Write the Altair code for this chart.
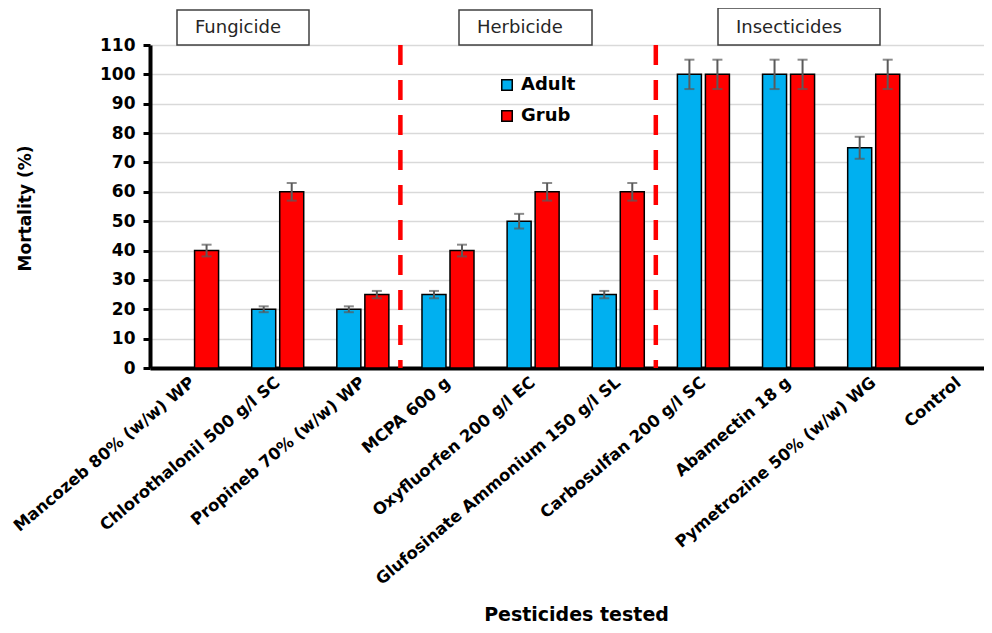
import altair as alt
import pandas as pd

# ---------------- data ----------------
pesticides = [
    "Mancozeb 80% (w/w) WP",
    "Chlorothalonil 500 g/l SC",
    "Propineb 70% (w/w) WP",
    "MCPA 600 g",
    "Oxyfluorfen 200 g/l EC",
    "Glufosinate Ammonium 150 g/l SL",
    "Carbosulfan 200 g/l SC",
    "Abamectin 18 g",
    "Pymetrozine 50% (w/w) WG",
    "Control",
]
adult = [0, 20, 20, 25, 50, 25, 100, 100, 75, 0]
grub = [40, 60, 25, 40, 60, 60, 100, 100, 100, 0]
adult_err = [0, 1, 1, 1.25, 2.5, 1.25, 5, 5, 3.75, 0]
grub_err = [2, 3, 1.25, 2, 3, 3, 5, 5, 5, 0]
stages = ["Adult", "Grub"]
stage_colors = ["#00B0F0", "#FF0000"]
y_ticks = list(range(0, 111, 10))
separators = ["MCPA 600 g", "Carbosulfan 200 g/l SC"]
classes = ["Fungicide", "Herbicide", "Insecticides"]

rows = []
for i, p in enumerate(pesticides):
    for s, vals, errs in (("Adult", adult, adult_err), ("Grub", grub, grub_err)):
        rows.append({"pesticide": p, "stage": s, "value": vals[i], "err": errs[i],
                     "lo": vals[i] - errs[i], "hi": vals[i] + errs[i]})
df = pd.DataFrame(rows)
err_df = df[df["err"] > 0]
sep_df = pd.DataFrame({"pesticide": separators})

# ---------------- layout / style ----------------
BOLD = "DejaVu Sans"
x_scale = alt.Scale(domain=pesticides, range=[0, 851.4], paddingInner=0.389, paddingOuter=0.1945)
xo_scale = alt.Scale(domain=stages, paddingInner=0.143, paddingOuter=0)

x_axis = alt.Axis(
    title="Pesticides tested", labelAngle=-40, labelAlign="right", labelBaseline="middle",
    labelFont=BOLD, labelFontWeight="bold", labelFontSize=16.4, labelColor="black",
    labelPadding=12, labelLimit=0, labelOverlap=False, ticks=False,
    domainColor="black", domainWidth=4,
    titleFont=BOLD, titleFontWeight="bold", titleFontSize=19, titleColor="black",
    titleX=426, titleY=252, titleAlign="center", titleBaseline="alphabetic",
)
y_axis = alt.Axis(
    title="Mortality (%)", values=y_ticks, tickCount=12, grid=True, gridColor="#d9d9d9",
    gridWidth=1.5, labelOverlap=False,
    domainColor="black", domainWidth=4, tickColor="black", tickWidth=3, tickSize=7,
    labelFont=BOLD, labelFontWeight="bold", labelFontSize=17, labelColor="black", labelPadding=8,
    titleFont=BOLD, titleFontWeight="bold", titleFontSize=17, titleColor="black",
    titleX=-125, titleY=163, titleAngle=270, titleAlign="center", titleBaseline="middle",
)

X = alt.X("pesticide:N", sort=pesticides, scale=x_scale, axis=x_axis)
XO = alt.XOffset("stage:N", sort=stages, scale=xo_scale)
Yscale = alt.Scale(domain=[0, 110], nice=False)


def Y(field):
    return alt.Y(field, scale=Yscale, axis=y_axis, title="Mortality (%)")


bars = alt.Chart(df).mark_bar(stroke="black", strokeWidth=1.5).encode(
    x=X, xOffset=XO,
    y=Y("value:Q"),
    color=alt.Color("stage:N", sort=stages,
                    scale=alt.Scale(domain=stages, range=stage_colors),
                    legend=alt.Legend(orient="none", legendX=348, legendY=31, title=None,
                                      symbolType="square", symbolSize=110,
                                      symbolStrokeColor="black", symbolStrokeWidth=1.5,
                                      labelFont=BOLD, labelFontWeight="bold",
                                      labelFontSize=18, labelColor="black",
                                      rowPadding=13, labelOffset=5)),
)

whisk = alt.Chart(err_df).mark_rule(color="#5a5a5a", strokeWidth=2).encode(
    x=X, xOffset=XO, y=Y("lo:Q"), y2="hi:Q")
cap_hi = alt.Chart(err_df).mark_tick(color="#5a5a5a", thickness=2, size=10, orient="horizontal").encode(
    x=X, xOffset=XO, y=Y("hi:Q"))
cap_lo = alt.Chart(err_df).mark_tick(color="#5a5a5a", thickness=2, size=10, orient="horizontal").encode(
    x=X, xOffset=XO, y=Y("lo:Q"))

seps = alt.Chart(sep_df).mark_rule(color="#FF0000", strokeWidth=4.5, strokeDash=[20, 15],
                                   xOffset=-47.6).encode(
    x=X, y=alt.datum(110), y2=alt.datum(0))

# class label boxes (above the plot area)
box_px = [(27, 159, -35), (309, 442, -35), (568, 730, -37)]
layers = [bars, whisk, cap_hi, cap_lo, seps]
for name, (x0, x1, top) in zip(classes, box_px):
    d = alt.Data(values=[{"label": name}])
    layers.append(alt.Chart(d).mark_rect(fill="white", stroke="#404040", strokeWidth=1.5).encode(
        x=alt.value(x0), x2=alt.value(x1), y=alt.value(top), y2=alt.value(0)))
    layers.append(alt.Chart(d).mark_text(align="left", baseline="middle", font="DejaVu Sans",
                                         fontSize=18, color="#262626").encode(
        x=alt.value(x0 + 18), y=alt.value(-17), text="label:N"))

chart = alt.layer(*layers).properties(
    width=834, height=323,
    autosize=alt.AutoSizeParams(type="none"),
    padding={"left": 142, "top": 37, "right": 0, "bottom": 257},
    background="white",
).configure_view(stroke=None)

chart.save("out.html", embed_options={"renderer": "svg", "actions": False})
